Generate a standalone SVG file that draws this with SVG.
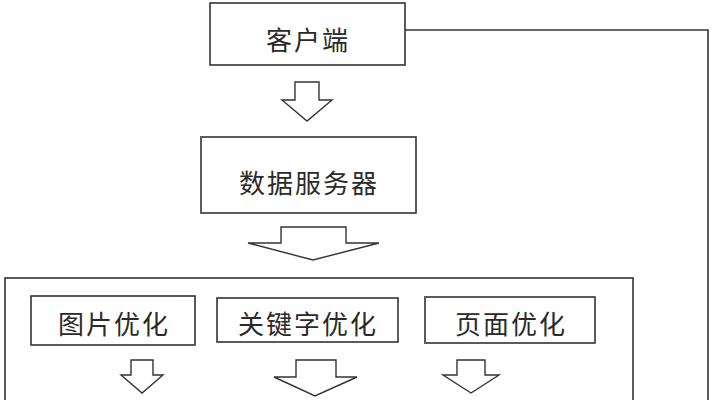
<svg xmlns="http://www.w3.org/2000/svg" width="713" height="400" viewBox="0 0 713 400">
<style>
.box{fill:#fff;stroke:#333;stroke-width:1.6}
.frame{fill:none;stroke:#333;stroke-width:1.6}
.arr{fill:#fff;stroke:#333;stroke-width:1.4;stroke-linejoin:miter}
.lbl{font-family:"Noto Sans CJK SC","Noto Sans",sans-serif;font-size:26px;fill:#2a2a2a;text-anchor:middle;dominant-baseline:central;letter-spacing:2px}
.con{fill:none;stroke:#333;stroke-width:1.6}
</style>
<rect width="713" height="400" fill="#fff"/>
<g id="optimization">
<rect class="frame" x="5" y="278" width="628" height="140"/>
</g>
<g id="client">
<rect class="box" x="210" y="3" width="195" height="62"/>
<text class="lbl" x="308" y="38">客户端</text>
</g>
<g id="dataserver">
<rect class="box" x="201" y="137" width="215" height="76"/>
<text class="lbl" x="309" y="181">数据服务器</text>
</g>
<g id="image-opt">
<rect class="box" x="31" y="296" width="164" height="49"/>
<text class="lbl" x="114" y="322">图片优化</text>
</g>
<g id="keyword-opt">
<rect class="box" x="217" y="298" width="181" height="44"/>
<text class="lbl" x="308" y="322">关键字优化</text>
</g>
<g id="page-opt">
<rect class="box" x="425" y="297" width="170" height="46"/>
<text class="lbl" x="511" y="322">页面优化</text>
</g>
<g id="connectors">
<polyline class="con" points="405,30 708,30 708,402"/>
<polygon class="arr" points="295,82 319,82 319,100 332,100 307,121 282,100 295,100"/>
<polygon class="arr" points="281,227 346,227 346,243 379,243 313,260 248,243 281,243"/>
<polygon class="arr" points="131,360 153,360 153,375 163,375 142,393 121,375 131,375"/>
<polygon class="arr" points="296,360 336,360 336,377 357,377 315,396 274,377 296,377"/>
<polygon class="arr" points="457,360 485,360 485,375 499,375 471,393 443,375 457,375"/>
</g>
</svg>
